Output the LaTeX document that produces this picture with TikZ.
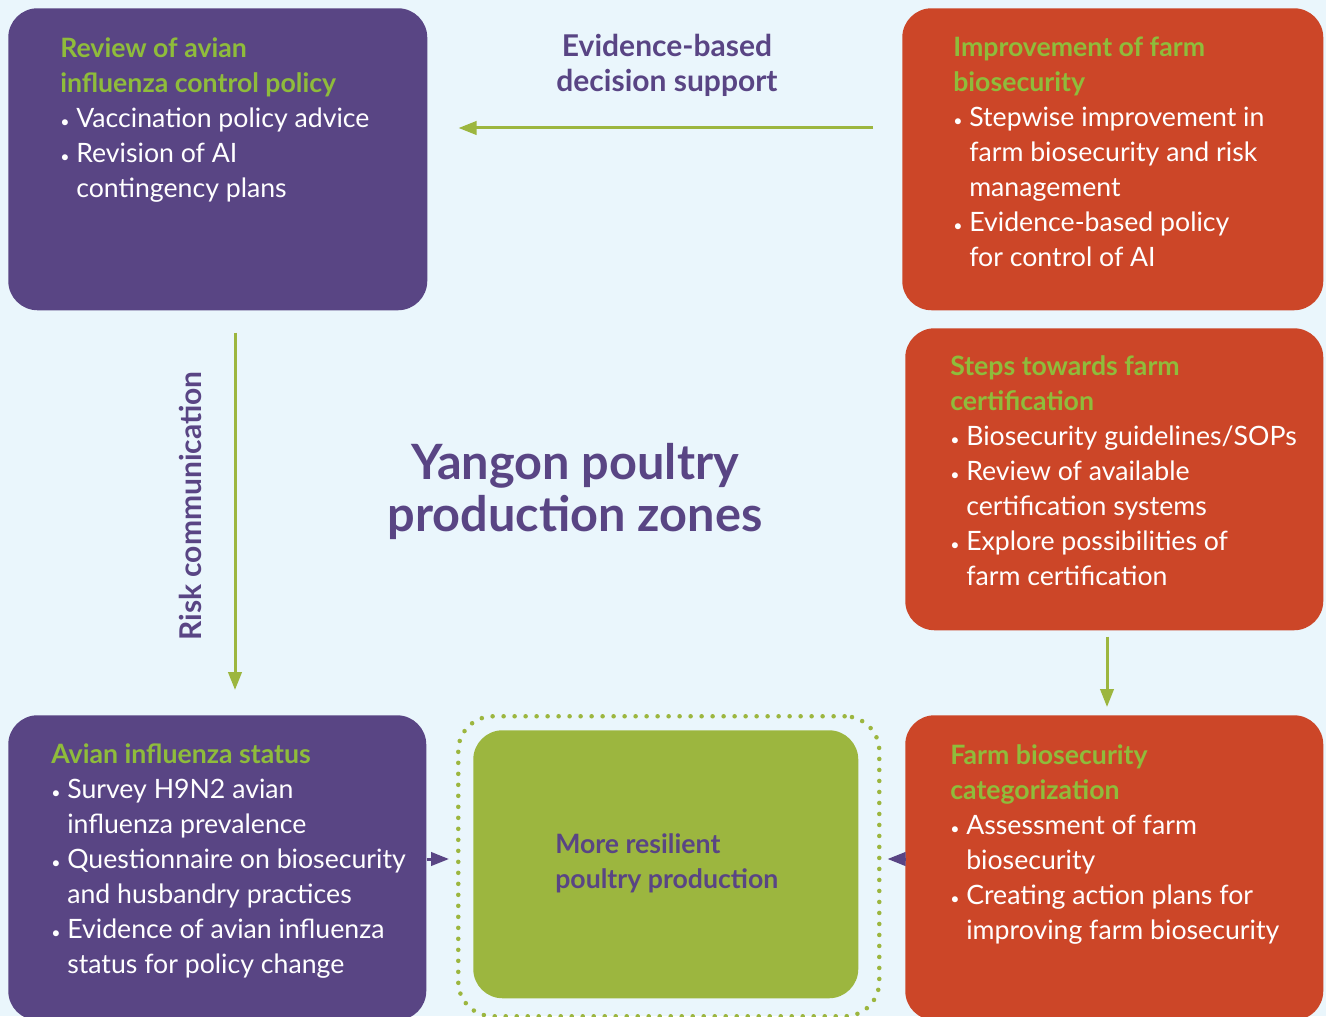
\documentclass[tikz,border=0pt]{standalone}
\usepackage{fontspec}
\setmainfont{Lato}
\usetikzlibrary{arrows.meta,calc}
\definecolor{avbg}{HTML}{EAF6FC}
\definecolor{avpurple}{HTML}{594584}
\definecolor{avred}{HTML}{CC4628}
\definecolor{avgreen}{HTML}{9CB63F}
\definecolor{avhead}{HTML}{8FBC3B}
\newcommand{\hd}[1]{{\bfseries\color{avhead}#1}}
\newcommand{\bul}{\makebox[12pt][l]{\fontsize{12}{12}\selectfont\textbullet}}
\newcommand{\ind}{\hspace*{12pt}}

\begin{document}
\begin{tikzpicture}[x=0.75pt,y=-0.75pt,
    box/.style={rounded corners=22pt,inner sep=0pt,anchor=north west},
    boxtext/.style={anchor=north west,inner sep=0pt,align=left,text=white,
      font=\fontsize{20}{26.25}\selectfont},
    garrow/.style={draw=avgreen,line width=2.25pt,-{Triangle[length=13.5pt,width=10pt]}},
    parrow/.style={draw=avpurple,line width=2.25pt,-{Triangle[length=13.5pt,width=10pt]}},
    ring/.style={draw=avgreen,line width=3.4pt,dash pattern=on 0pt off 8.25pt,line cap=round,
      rounded corners=26pt,inner sep=0pt,anchor=north west},
    caption/.style={text=avpurple,font=\bfseries\fontsize{22.5}{26.25}\selectfont,align=center}]
  \useasboundingbox (0,0) rectangle (1326,1016);
  \fill[avbg] (0,0) rectangle (1326,1016);

  % boxes
  \node[box,fill=avpurple,minimum width=314.25pt,minimum height=226.5pt] (tl) at (8,8) {};
  \node[box,fill=avred,minimum width=315.75pt,minimum height=226.5pt] (tr) at (902,8) {};
  \node[box,fill=avred,minimum width=313.5pt,minimum height=226.5pt] (mr) at (905,328) {};
  \node[box,fill=avpurple,minimum width=313.5pt,minimum height=228.75pt] (bl) at (8,715) {};
  \node[box,fill=avred,minimum width=313.5pt,minimum height=228.75pt] (br) at (905,715) {};
  \node[ring,minimum width=315.75pt,minimum height=225pt] (rg) at (456,714) {};
  \node[box,fill=avgreen,minimum width=288.75pt,minimum height=201pt] (core) at (473,730) {};

  % texts in the boxes
  \node[boxtext] (tltxt) at (60,37) {\hd{Review of avian}\\\hd{influenza control policy}\\
    \bul Vaccination policy advice\\\bul Revision of AI\\\ind contingency plans};
  \node[boxtext] (trtxt) at (953,37) {\hd{Improvement of farm}\\\hd{biosecurity}\\
    \bul Stepwise improvement in\\\ind farm biosecurity and risk\\\ind management\\
    \bul Evidence-based policy\\\ind for control of AI};
  \node[boxtext] (mrtxt) at (950,355) {\hd{Steps towards farm}\\\hd{certification}\\
    \bul Biosecurity guidelines/SOPs\\\bul Review of available\\\ind certification systems\\
    \bul Explore possibilities of\\\ind farm certification};
  \node[boxtext] (bltxt) at (51,743) {\hd{Avian influenza status}\\
    \bul Survey H9N2 avian\\\ind influenza prevalence\\\bul Questionnaire on biosecurity\\
    \ind and husbandry practices\\\bul Evidence of avian influenza\\\ind status for policy change};
  \node[boxtext] (brtxt) at (950,744) {\hd{Farm biosecurity}\\\hd{categorization}\\
    \bul Assessment of farm\\\ind biosecurity\\\bul Creating action plans for\\
    \ind improving farm biosecurity};
  \node[boxtext,text=avpurple,font=\bfseries\fontsize{20}{26.25}\selectfont] (coretxt) at (555,833)
    {More resilient\\poultry production};

  % free labels
  \node[caption] (evid) at (667,65) {Evidence-based\\decision support};
  \node[caption,rotate=90] (risk) at (190,506) {Risk communication};
  \node[caption,font=\bfseries\fontsize{36.5}{39}\selectfont] (zone) at (575,491)
    {Yangon poultry\\production zones};

  % connectors
  \coordinate (evy) at (0,128);
  \coordinate (rx) at (235,0);
  \coordinate (cx) at (1107,0);
  \coordinate (py) at (0,859);
  \draw[garrow,shorten <=21.75pt,shorten >=23.25pt] (tr.west |- evy) -- (tl.east |- evy);
  \draw[garrow,shorten <=16.5pt,shorten >=18.75pt] (tl.south -| rx) -- (bl.north -| rx);
  \draw[garrow,shorten <=4.5pt,shorten >=6pt] (mr.south -| cx) -- (br.north -| cx);
  \draw[parrow,shorten >=5.25pt] (bl.east |- py) -- (rg.west |- py);
  \draw[parrow,shorten >=4.5pt] (br.west |- py) -- (rg.east |- py);
\end{tikzpicture}
\end{document}
